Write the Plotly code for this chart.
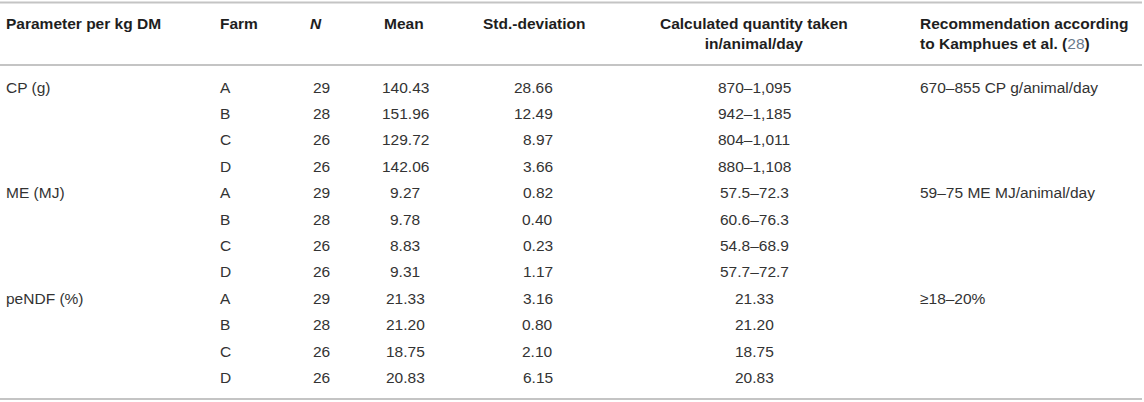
import plotly.graph_objects as go

# table content
headers = [
    "Parameter per kg DM", "Farm", "<i>N</i>", "Mean", "Std.-deviation",
    "Calculated quantity taken<br>in/animal/day",
    "Recommendation according<br>to Kamphues et al. (<span style='font-weight:normal;color:#6a7a8c'>28</span>)",
]
parameters = ["CP (g)", "", "", "", "ME (MJ)", "", "", "", "peNDF (%)", "", "", ""]
farms = ["A", "B", "C", "D"] * 3
n_values = [29, 28, 26, 26] * 3
means = ["140.43", "151.96", "129.72", "142.06",
         "9.27", "9.78", "8.83", "9.31",
         "21.33", "21.20", "18.75", "20.83"]
std_devs = ["28.66", "12.49", "8.97", "3.66",
            "0.82", "0.40", "0.23", "1.17",
            "3.16", "0.80", "2.10", "6.15"]
quantities = ["870–1,095", "942–1,185", "804–1,011", "880–1,108",
              "57.5–72.3", "60.6–76.3", "54.8–68.9", "57.7–72.7",
              "21.33", "21.20", "18.75", "20.83"]
recommendations = ["670–855 CP g/animal/day", "", "", "",
                   "59–75 ME MJ/animal/day", "", "", "",
                   "≥18–20%", "", "", ""]

W, H = 1144, 402
FIRST_ROW = 87
ROW_STEP = 26.4
FONT = "Liberation Sans, Arial, sans-serif"
SIZE = 15.5

# column layout: (header x, header anchor, body x, body anchor)
cols = [
    (4, "left", 4, "left"),
    (218, "left", 218, "left"),
    (316, "center", 321, "center"),
    (404, "center", 405, "center"),
    (534, "center", 555, "right"),
    (754, "center", 754, "center"),
    (918, "left", 918, "left"),
]
body = [parameters, farms, [str(v) for v in n_values], means, std_devs,
        quantities, recommendations]


def row_y(i):
    return FIRST_ROW + i * ROW_STEP


fig = go.Figure()
annotations = []

for (hx, ha, bx, ba), head, column in zip(cols, headers, body):
    two_line = "<br>" in head
    annotations.append(dict(
        x=hx, y=33.5 if two_line else 23, text="<b>" + head + "</b>",
        xanchor=ha, yanchor="middle", align=ha, showarrow=False,
        font=dict(family=FONT, size=SIZE, color="#1e1e1e"),
    ))
    for i, val in enumerate(column):
        if val == "":
            continue
        annotations.append(dict(
            x=bx, y=row_y(i), text=val, xanchor=ba, yanchor="middle",
            showarrow=False, font=dict(family=FONT, size=SIZE, color="#333333"),
        ))

rules = [2.5, 65, 399]
shapes = [dict(type="line", x0=0, x1=1142, y0=r, y1=r, xref="x", yref="y",
               line=dict(color="#c4c4c4", width=2)) for r in rules]

fig.update_layout(
    width=W, height=H,
    margin=dict(l=0, r=0, t=0, b=0),
    paper_bgcolor="white", plot_bgcolor="white",
    xaxis=dict(range=[0, W], visible=False, fixedrange=True),
    yaxis=dict(range=[H, 0], visible=False, fixedrange=True),
    annotations=annotations, shapes=shapes, showlegend=False,
)

# the page has a default 8px body margin; drop it so the table sits at 0,0
fig.write_html(
    "out.html",
    config={"displayModeBar": False, "staticPlot": True},
    post_script="document.body.style.margin='0';document.documentElement.style.overflow='hidden';",
)
